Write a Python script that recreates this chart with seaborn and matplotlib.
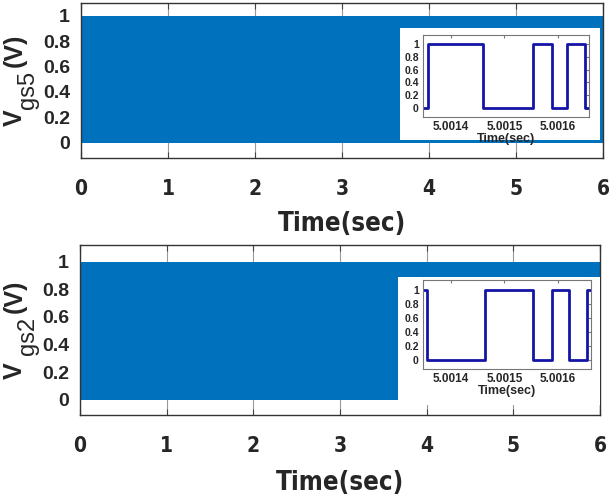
import numpy as np
import pandas as pd
import seaborn as sns
import matplotlib.pyplot as plt
from matplotlib.patches import Rectangle

sns.set_style("white")
plt.rcParams['font.family'] = ['Liberation Sans', 'DejaVu Sans']

# condensed bold face for the big x labels (closest to the narrow font of the original)
NARROW = dict(family='DejaVu Sans', stretch='condensed')

# main traces: the switching is too fast to resolve, only the envelope shows
main_t = [0, 6]
main_low = [0, 0]
main_high = [1, 1]

# zoomed gate signals (time in s, level in V)
zoom5_t = [5.001340, 5.001357, 5.001460, 5.001553, 5.001589, 5.001617, 5.001650, 5.001670]
zoom5_v = [0, 1, 0, 1, 0, 1, 0, 0]
zoom2_t = [5.001340, 5.001355, 5.001463, 5.001553, 5.001590, 5.001620, 5.001655, 5.001670]
zoom2_v = [1, 0, 1, 0, 1, 0, 1, 1]

main_ticks = [0, 1, 2, 3, 4, 5, 6]
y_ticks = [0, 0.2, 0.4, 0.6, 0.8, 1]
y_labels = ['0', '0.2', '0.4', '0.6', '0.8', '1']
zoom_ticks = [5.0014, 5.0015, 5.0016]
sub_names = ['gs5', 'gs2']

blue = '#0072BD'
navy = '#1414a6'

W, H = 610, 498
fig = plt.figure(figsize=(W/100, H/100), dpi=100)

def px(x, y):
    return x / W, 1 - y / H

panels = [
    ([81/W, 1-158/H, 522/W, 155/H], (-0.12, 1.10), (118, 90, 50), 9,
     (400, 28, 200, 112), [423/W, 1-117/H, 166/W, 82/H], (-0.15, 1.15),
     (zoom5_t, zoom5_v), (5.001348, 5.001658)),
    ([80/W, 1-415/H, 520/W, 170/H], (-0.11, 1.12), (371, 336, 296), 10,
     (398, 277, 202, 128), [423/W, 1-369/H, 168/W, 89/H], (-0.13, 1.14),
     (zoom2_t, zoom2_v), (5.001348, 5.001662)),
]

for i, (rect, ylim, ly, lpad, box, irect, iylim, (zt, zv), ixlim) in enumerate(panels):
    ax = fig.add_axes(rect)
    ax.fill_between(main_t, main_low, main_high, color=blue, lw=0)
    ax.set_xlim(0, 6)
    ax.set_ylim(*ylim)
    ax.set_xticks(main_ticks)
    ax.set_xticklabels([str(t) for t in main_ticks], fontsize=15, fontweight='bold', **NARROW)
    ax.set_yticks(y_ticks)
    ax.set_yticklabels(y_labels, fontsize=14, fontweight='bold')
    ax.tick_params(axis='x', direction='in', length=4, pad=15, top=True, bottom=True, color='#444444')
    ax.tick_params(axis='y', direction='in', length=0, pad=8)
    ax.grid(axis='x', color='#9a9a9a', lw=0.8)
    ax.set_axisbelow(True)
    for s in ax.spines.values():
        s.set_color('#333333')
        s.set_linewidth(1.0)
    ax.set_xlabel('Time(sec)', fontsize=18.5, fontweight='bold', labelpad=lpad, **NARROW)

    # y label built from pieces so the subscript keeps its size
    fig.text(*px(15, ly[0]), 'V', rotation=90, ha='center', va='center', fontsize=18, fontweight='bold')
    fig.text(*px(28, ly[1]), sub_names[i], rotation=90, ha='center', va='center', fontsize=17)
    fig.text(*px(15, ly[2]), '(V)', rotation=90, ha='center', va='center', fontsize=18, fontweight='bold')

    bx, by, bw, bh = box
    fig.patches.append(Rectangle((bx/W, 1-(by+bh)/H), bw/W, bh/H,
                                 transform=fig.transFigure, facecolor='white',
                                 edgecolor='none', zorder=5))

    iax = fig.add_axes(irect)
    iax.set_zorder(10)
    df = pd.DataFrame({'t': zt, 'v': zv})
    sns.lineplot(data=df, x='t', y='v', ax=iax, color=navy, lw=2.0, drawstyle='steps-post')
    iax.set_xlim(*ixlim)
    iax.set_ylim(*iylim)
    iax.set_xticks(zoom_ticks)
    iax.set_xticklabels(['5.0014', '5.0015', '5.0016'], fontsize=8.5, fontweight='bold')
    iax.set_yticks(y_ticks)
    iax.set_yticklabels(y_labels, fontsize=7.5, fontweight='bold')
    iax.tick_params(direction='in', length=2, pad=3, top=True, right=True, color='#777777')
    iax.set_xlabel('Time(sec)', fontsize=9, fontweight='bold', labelpad=0)
    iax.set_ylabel('')
    for s in iax.spines.values():
        s.set_color('#777777')
        s.set_linewidth(0.8)

fig.savefig('out.png', dpi=100)
